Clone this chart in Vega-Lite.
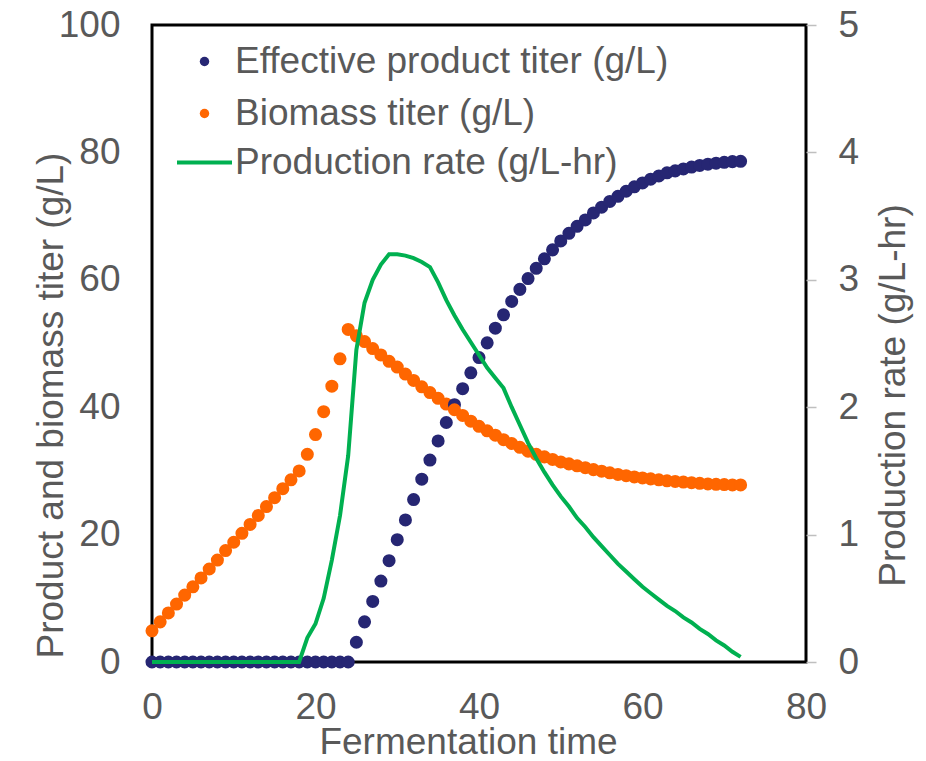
{
  "$schema": "https://vega.github.io/schema/vega-lite/v6.json",
  "width": 654,
  "height": 637,
  "autosize": "none",
  "padding": {"left": 152, "top": 25, "right": 120, "bottom": 99},
  "background": "white",
  "config": {
    "view": {"stroke": "#000000", "strokeWidth": 3},
    "font": "Liberation Sans",
    "axis": {"grid": false, "domain": false, "labelFlush": false, "labelOverlap": false, "labelFont": "Liberation Sans", "labelFontSize": 37, "labelColor": "#595959", "titleFont": "Liberation Sans", "titleFontSize": 37, "titleColor": "#595959", "titleFontWeight": "normal"},
    "legend": {"labelFont": "Liberation Sans", "labelFontSize": 37, "labelColor": "#595959", "labelLimit": 600}
  },
  "data": {"values": [
    {"t":0,"product":0,"biomass":4.9,"rate":0},
    {"t":1,"product":0,"biomass":6.3,"rate":0},
    {"t":2,"product":0,"biomass":7.7,"rate":0},
    {"t":3,"product":0,"biomass":9.1,"rate":0},
    {"t":4,"product":0,"biomass":10.5,"rate":0},
    {"t":5,"product":0,"biomass":11.8,"rate":0},
    {"t":6,"product":0,"biomass":13.2,"rate":0},
    {"t":7,"product":0,"biomass":14.6,"rate":0},
    {"t":8,"product":0,"biomass":16.0,"rate":0},
    {"t":9,"product":0,"biomass":17.5,"rate":0},
    {"t":10,"product":0,"biomass":18.8,"rate":0},
    {"t":11,"product":0,"biomass":20.2,"rate":0},
    {"t":12,"product":0,"biomass":21.6,"rate":0},
    {"t":13,"product":0,"biomass":23.0,"rate":0},
    {"t":14,"product":0,"biomass":24.4,"rate":0},
    {"t":15,"product":0,"biomass":25.8,"rate":0},
    {"t":16,"product":0,"biomass":27.2,"rate":0},
    {"t":17,"product":0,"biomass":28.6,"rate":0},
    {"t":18,"product":0,"biomass":30.0,"rate":0},
    {"t":19,"product":0,"biomass":32.6,"rate":0.19},
    {"t":20,"product":0,"biomass":35.7,"rate":0.30},
    {"t":21,"product":0,"biomass":39.3,"rate":0.50},
    {"t":22,"product":0,"biomass":43.3,"rate":0.80},
    {"t":23,"product":0,"biomass":47.6,"rate":1.15},
    {"t":24,"product":0,"biomass":52.2,"rate":1.62},
    {"t":25,"product":3.1,"biomass":51.2,"rate":2.45},
    {"t":26,"product":6.3,"biomass":50.3,"rate":2.82},
    {"t":27,"product":9.5,"biomass":49.2,"rate":3.00},
    {"t":28,"product":12.7,"biomass":48.2,"rate":3.12},
    {"t":29,"product":15.9,"biomass":47.2,"rate":3.20},
    {"t":30,"product":19.2,"biomass":46.3,"rate":3.20},
    {"t":31,"product":22.3,"biomass":45.2,"rate":3.19},
    {"t":32,"product":25.5,"biomass":44.2,"rate":3.17},
    {"t":33,"product":28.7,"biomass":43.2,"rate":3.14},
    {"t":34,"product":31.7,"biomass":42.3,"rate":3.10},
    {"t":35,"product":34.7,"biomass":41.4,"rate":2.98},
    {"t":36,"product":37.6,"biomass":40.5,"rate":2.84},
    {"t":37,"product":40.4,"biomass":39.6,"rate":2.72},
    {"t":38,"product":42.9,"biomass":38.7,"rate":2.61},
    {"t":39,"product":45.4,"biomass":37.8,"rate":2.51},
    {"t":40,"product":47.8,"biomass":37.0,"rate":2.41},
    {"t":41,"product":50.1,"biomass":36.3,"rate":2.31},
    {"t":42,"product":52.4,"biomass":35.6,"rate":2.23},
    {"t":43,"product":54.5,"biomass":34.9,"rate":2.15},
    {"t":44,"product":56.6,"biomass":34.3,"rate":2.00},
    {"t":45,"product":58.5,"biomass":33.7,"rate":1.86},
    {"t":46,"product":60.2,"biomass":33.1,"rate":1.72},
    {"t":47,"product":61.8,"biomass":32.6,"rate":1.60},
    {"t":48,"product":63.3,"biomass":32.2,"rate":1.49},
    {"t":49,"product":64.7,"biomass":31.8,"rate":1.39},
    {"t":50,"product":66.1,"biomass":31.4,"rate":1.30},
    {"t":51,"product":67.3,"biomass":31.1,"rate":1.22},
    {"t":52,"product":68.4,"biomass":30.8,"rate":1.13},
    {"t":53,"product":69.4,"biomass":30.5,"rate":1.06},
    {"t":54,"product":70.5,"biomass":30.2,"rate":0.98},
    {"t":55,"product":71.4,"biomass":29.95,"rate":0.91},
    {"t":56,"product":72.3,"biomass":29.7,"rate":0.84},
    {"t":57,"product":73.1,"biomass":29.45,"rate":0.77},
    {"t":58,"product":73.9,"biomass":29.25,"rate":0.71},
    {"t":59,"product":74.6,"biomass":29.05,"rate":0.65},
    {"t":60,"product":75.2,"biomass":28.9,"rate":0.59},
    {"t":61,"product":75.8,"biomass":28.75,"rate":0.54},
    {"t":62,"product":76.3,"biomass":28.6,"rate":0.49},
    {"t":63,"product":76.8,"biomass":28.45,"rate":0.44},
    {"t":64,"product":77.1,"biomass":28.35,"rate":0.40},
    {"t":65,"product":77.4,"biomass":28.25,"rate":0.35},
    {"t":66,"product":77.7,"biomass":28.15,"rate":0.31},
    {"t":67,"product":77.95,"biomass":28.05,"rate":0.26},
    {"t":68,"product":78.15,"biomass":27.95,"rate":0.22},
    {"t":69,"product":78.3,"biomass":27.9,"rate":0.17},
    {"t":70,"product":78.45,"biomass":27.85,"rate":0.13},
    {"t":71,"product":78.55,"biomass":27.8,"rate":0.08},
    {"t":72,"product":78.6,"biomass":27.8,"rate":0.04}
  ]},
  "layer": [
    {
      "transform": [{"fold": ["product", "biomass"], "as": ["series", "value"]}],
      "mark": {"type": "point", "filled": true, "opacity": 1, "size": 170},
      "encoding": {
        "x": {"field": "t", "type": "quantitative", "scale": {"domain": [0, 80], "nice": false},
          "axis": {"values": [0, 20, 40, 60, 80], "ticks": false, "labelPadding": 27, "title": "Fermentation time", "titleX": 316, "titleY": 80, "titleAlign": "center", "titleBaseline": "middle"}},
        "y": {"field": "value", "type": "quantitative", "scale": {"domain": [0, 100], "nice": false},
          "axis": {"values": [0, 20, 40, 60, 80, 100], "ticks": false, "labelPadding": 32, "title": "Product and biomass titer  (g/L)", "titleAngle": 270, "titleX": -101, "titleY": 380, "titleAlign": "center", "titleBaseline": "middle"}},
        "color": {"field": "series", "type": "nominal",
          "scale": {"domain": ["product", "biomass"], "range": ["#262673", "#FF6600"]},
          "legend": {"title": null, "orient": "none", "legendX": 34, "legendY": 18, "padding": 0, "symbolType": "circle", "symbolSize": 90, "symbolStrokeWidth": 0, "labelOffset": 12, "rowPadding": 14,
            "labelExpr": "datum.value == 'product' ? 'Effective product titer (g/L)' : 'Biomass titer (g/L)'"}}
      }
    },
    {
      "mark": {"type": "line", "strokeWidth": 4},
      "encoding": {
        "x": {"field": "t", "type": "quantitative"},
        "y": {"field": "rate", "type": "quantitative", "scale": {"domain": [0, 5], "nice": false},
          "axis": {"orient": "right", "values": [0, 1, 2, 3, 4, 5], "ticks": true, "tickColor": "#BFBFBF", "tickSize": 10, "tickWidth": 1.5, "labelPadding": 22, "title": "Production rate (g/L-hr)", "titleAngle": 270, "titleX": 87, "titleY": 370, "titleAlign": "center", "titleBaseline": "middle"}},
        "stroke": {"datum": "Production rate (g/L-hr)", "type": "nominal", "scale": {"range": ["#00B050"]},
          "legend": {"title": null, "orient": "none", "legendX": 23, "legendY": 108, "padding": 0, "symbolType": "stroke", "symbolSize": 3025, "symbolStrokeWidth": 4, "labelOffset": 1}}
      }
    }
  ],
  "resolve": {"scale": {"y": "independent"}}
}
